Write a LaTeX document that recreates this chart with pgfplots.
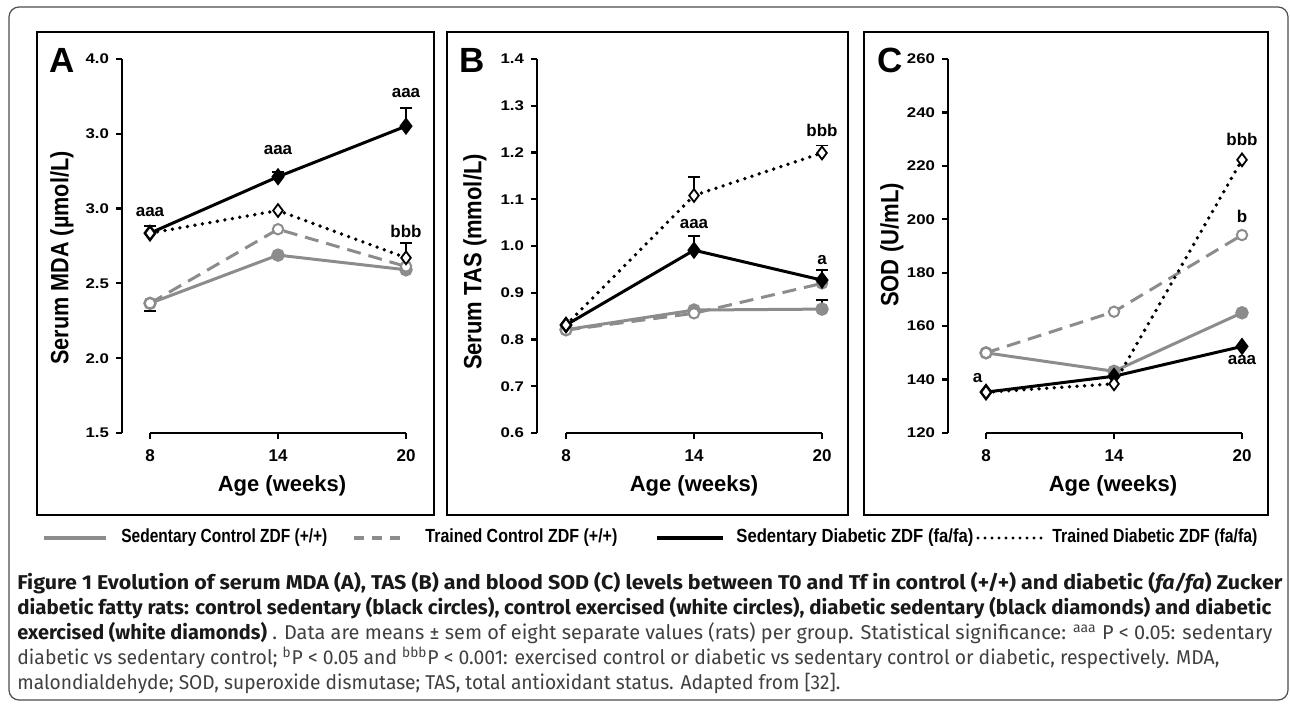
\documentclass[border=0pt]{standalone}
\usepackage{fontspec}
\setmainfont{Liberation Sans}
\newfontfamily\capfont{Fira Sans}
\newfontfamily\tickfont[FakeStretch=1.2]{Liberation Sans}
\usepackage{graphicx}
\usepackage{pgfplots}
\pgfplotsset{compat=1.18}
\definecolor{grey}{RGB}{140,140,140}
\pgfplotsset{
  panel/.style={scale only axis, width=128pt, height=187pt, anchor=south west,
    xmin=8, xmax=20, axis lines=left, axis line style={-, line width=1.4pt},
    clip=false, xtick={8,14,20}, xticklabels={8,14,20},
    tick align=outside, major tick length=3pt, tick style={line width=1.1pt, black},
    xticklabel style={font=\bfseries\fontsize{8.5}{9}\selectfont, yshift=-2pt},
    yticklabel style={font=\tickfont\bfseries\fontsize{7}{8}\selectfont}},
  sc/.style={grey, line width=1.5pt, mark=*, mark size=2.6pt, mark options={solid, fill=grey, draw=grey}},
  tc/.style={grey, line width=1.5pt, dash pattern=on 7pt off 4pt, mark=*, mark size=2.6pt, mark options={solid, fill=white, draw=grey, line width=1pt}},
  sd/.style={black, line width=1.5pt, mark=diamond*, mark size=3.2pt, mark options={solid, fill=black}},
  td/.style={black, line width=1.9pt, dash pattern=on 0pt off 3.8pt, line cap=round, mark=diamond*, mark size=3.2pt, mark options={solid, fill=white, line width=0.9pt, line cap=butt}},
  errbase/.style={forget plot, black, only marks, mark=none, error bars/.cd, y explicit,
    error bar style={line width=0.9pt, solid}, error mark options={rotate=90, mark size=3pt, line width=0.9pt, solid}},
  errp/.style={errbase, /pgfplots/error bars/y dir=plus},
  errm/.style={errbase, /pgfplots/error bars/y dir=minus},
}
\newcommand{\ann}{\bfseries\fontsize{8.5}{9}\selectfont}
\begin{document}
\begin{tikzpicture}
\useasboundingbox (0,0) rectangle (645pt,353pt);
\begin{scope}[x=0.5pt,y=-0.5pt,yshift=353pt]
  \draw[black!70, line width=0.6pt, rounded corners=5pt] (9,7) rectangle (1288,700);
  \draw[line width=1.2pt] (37,32) rectangle (434,515);
  \draw[line width=1.2pt] (447,32) rectangle (848,515);
  \draw[line width=1.2pt] (864,32) rectangle (1268,515);
  \node[font=\bfseries\fontsize{17.5}{18}\selectfont] at (62,60) {A};
  \node[font=\bfseries\fontsize{17.5}{18}\selectfont] at (472,60) {B};
  \node[font=\bfseries\fontsize{17.5}{18}\selectfont] at (890,60) {C};
  \node[rotate=90, font=\bfseries\fontsize{12.5}{14}\selectfont] at (62,258) {\resizebox{106.5pt}{\height}{Serum MDA (µmol/L)}};
  \node[rotate=90, font=\bfseries\fontsize{12.5}{14}\selectfont] at (475,262) {\resizebox{108pt}{\height}{Serum TAS (mmol/L)}};
  \node[rotate=90, font=\bfseries\fontsize{12.5}{14}\selectfont] at (892,245) {\resizebox{62pt}{\height}{SOD (U/mL)}};
  \node[font=\bfseries\fontsize{11}{12}\selectfont] at (282,486) {Age (weeks)};
  \node[font=\bfseries\fontsize{11}{12}\selectfont] at (694,486) {Age (weeks)};
  \node[font=\bfseries\fontsize{11}{12}\selectfont] at (1113,486) {Age (weeks)};
  % legend
  \draw[grey, line width=2pt] (44,538) -- (106,538);
  \draw[grey, line width=2pt, dash pattern=on 5pt off 4pt] (354,538) -- (400,538);
  \draw[black, line width=2pt] (657,538) -- (723,538);
  \draw[black, line width=1.6pt, dash pattern=on 0pt off 3.5pt, line cap=round] (978,538) -- (1046,538);
  \node[anchor=west, inner sep=0pt, font=\bfseries\fontsize{9.5}{10}\selectfont] at (121,538) {\resizebox{103pt}{\height}{Sedentary Control ZDF (+/+)}};
  \node[anchor=west, inner sep=0pt, font=\bfseries\fontsize{9.5}{10}\selectfont] at (425,538) {\resizebox{96pt}{\height}{Trained Control ZDF (+/+)}};
  \node[anchor=west, inner sep=0pt, font=\bfseries\fontsize{9.5}{10}\selectfont] at (736,538) {\resizebox{118.5pt}{\height}{Sedentary Diabetic ZDF (fa/fa)}};
  \node[anchor=west, inner sep=0pt, font=\bfseries\fontsize{9.5}{10}\selectfont] at (1052,538) {\resizebox{102.5pt}{\height}{Trained Diabetic ZDF (fa/fa)}};
  % caption
  \begin{scope}[every node/.style={anchor=base west, inner sep=0pt, font=\capfont\fontsize{10}{11}\selectfont}]
  \node[text=black!90] at (17,590) {\resizebox{632.5pt}{\height}{\bfseries Figure 1 Evolution of serum MDA (A), TAS (B) and blood SOD (C) levels between T0 and Tf in control (+/+) and diabetic (\textit{fa/fa}) Zucker}};
  \node[text=black!90] at (17,615) {\resizebox{627pt}{\height}{\bfseries diabetic fatty rats: control sedentary (black circles), control exercised (white circles), diabetic sedentary (black diamonds) and diabetic}};
  \node[text=black!75] at (17,640) {\resizebox{627.5pt}{\height}{{\bfseries\color{black!90}exercised (white diamonds)} . Data are means ± sem of eight separate values (rats) per group. Statistical significance: \textsuperscript{aaa} P < 0.05: sedentary}};
  \node[text=black!75] at (17,665) {\resizebox{601pt}{\height}{diabetic vs sedentary control; \textsuperscript{b}P < 0.05 and \textsuperscript{bbb}P < 0.001: exercised control or diabetic vs sedentary control or diabetic, respectively. MDA,}};
  \node[text=black!75] at (17,690) {\resizebox{411.5pt}{\height}{malondialdehyde; SOD, superoxide dismutase; TAS, total antioxidant status. Adapted from [32].}};
  \end{scope}
\end{scope}

% Panel A
\begin{axis}[panel, at={(75pt,136.5pt)}, ymin=1.5, ymax=4, ytick={1.5,2,2.5,3,3.5,4},
  yticklabels={1.5,2.0,2.5,3.0,3.0,4.0}, axis y line shift=14pt]
  \addplot[errp] coordinates {(8,2.836) +- (0,0.05) (14,3.213) +- (0,0.03) (20,3.551) +- (0,0.12) (20,2.671) +- (0,0.10)};
  \addplot[errm] coordinates {(8,2.367) +- (0,0.05)};
  \addplot[sc] coordinates {(8,2.367) (14,2.689) (20,2.591)};
  \addplot[tc] coordinates {(8,2.367) (14,2.862) (20,2.613)};
  \addplot[sd] coordinates {(8,2.836) (14,3.213) (20,3.551)};
  \addplot[td] coordinates {(8,2.836) (14,2.987) (20,2.671)};
  \node[font=\ann] at (axis cs:8,2.98) {aaa};
  \node[font=\ann] at (axis cs:14,3.389) {aaa};
  \node[font=\ann] at (axis cs:20,3.773) {aaa};
  \node[font=\ann] at (axis cs:20,2.847) {bbb};
\end{axis}

% Panel B
\begin{axis}[panel, at={(283pt,136.5pt)}, ymin=0.6, ymax=1.4, ytick={0.6,0.7,0.8,0.9,1.0,1.1,1.2,1.3,1.4},
  yticklabels={0.6,0.7,0.8,0.9,1.0,1.1,1.2,1.3,1.4}, axis y line shift=14.5pt]
  \addplot[errp] coordinates {(20,0.865) +- (0,0.02) (14,0.991) +- (0,0.03) (20,0.927) +- (0,0.021) (14,1.108) +- (0,0.04) (20,1.199) +- (0,0.016)};
  \addplot[sc] coordinates {(8,0.821) (14,0.863) (20,0.865)};
  \addplot[tc] coordinates {(8,0.820) (14,0.856) (20,0.920)};
  \addplot[sd] coordinates {(8,0.831) (14,0.991) (20,0.927)};
  \addplot[td] coordinates {(8,0.831) (14,1.108) (20,1.199)};
  \node[font=\ann] at (axis cs:20,1.247) {bbb};
  \node[font=\ann] at (axis cs:14,1.048) {aaa};
  \node[font=\ann] at (axis cs:20,0.969) {a};
\end{axis}

% Panel C
\begin{axis}[panel, at={(493pt,136.5pt)}, ymin=120, ymax=260, ytick={120,140,160,180,200,220,240,260},
  yticklabels={120,140,160,180,200,220,240,260}, axis y line shift=19pt]
  \addplot[sc] coordinates {(8,150) (14,143.1) (20,165)};
  \addplot[tc] coordinates {(8,150) (14,165.4) (20,194.1)};
  \addplot[sd] coordinates {(8,135.3) (14,141.25) (20,152.4)};
  \addplot[td] coordinates {(8,135.25) (14,138.4) (20,222.25)};
  \node[font=\ann] at (axis cs:7.6,140.6) {a};
  \node[font=\ann] at (axis cs:20,230) {bbb};
  \node[font=\ann] at (axis cs:20,201) {b};
  \node[font=\ann] at (axis cs:20,147.5) {aaa};
\end{axis}
\end{tikzpicture}
\end{document}
